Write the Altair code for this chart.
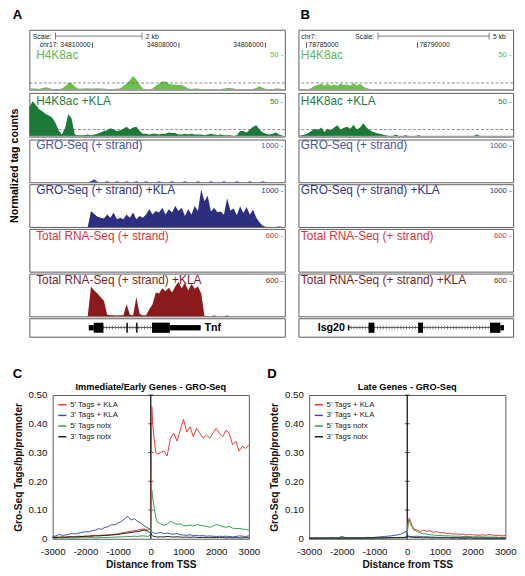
import altair as alt
import pandas as pd

FONT = "Liberation Sans"

# ---------------- Panel A: Tnf locus (chr17, coordinates fall left->right) ----------------
A_WINDOW = [34805550, 34811460]
A_BIN_START = 34811460
A_BIN_BP = 75
A_COORD_TICKS = [34810000, 34808000, 34806000]
A_COORD_LABELS = ["chr17: 34810000", "34808000", "34806000"]
A_SCALE_BAR = [34810855, 34808855]
A_SCALE_LABEL = "2 kb"

A_H4K8AC = [2, 2, 2, 1.5, 3, 4, 3, 1.5, 1, 1,
            2, 5, 10, 10, 5, 2, 2, 2, 2.5, 2,
            2, 2.5, 2, 2, 1.5, 1, 1.5, 2, 2, 6,
            9, 14, 20, 15, 8, 2, 1, 1, 2, 6,
            9, 12, 12, 9, 8, 8, 7, 7, 5, 2,
            1.5, 2, 2, 1.5, 1, 1, 1, 1.5, 1, 1,
            2, 3, 3, 2, 1, 1, 1, 1, 1, 1.5,
            3, 5.5, 3, 1.5, 1, 1, 2, 2, 1]
A_H4K8AC_KLA = [42, 50, 45, 39, 36, 32, 30, 27, 20, 9,
                3, 12, 32, 26, 3, 2, 2, 2, 3, 2,
                3, 4, 6, 8, 9, 12, 10, 8, 9, 11,
                14, 10, 13, 14, 8, 4, 4, 3, 4, 4,
                3, 4, 4, 6, 5, 5, 3, 3, 4, 3,
                4, 3, 3, 3, 2, 3, 4, 3, 2, 3,
                2, 2, 2, 1, 2, 8, 8, 6, 10, 14,
                16, 10, 6, 4, 3, 4, 6, 3, 2]
A_GRO = [0, 0, 0, 0, 0, 0, 0, 0, 0, 0,
         0, 0, 0, 0, 0, 0, 0, 0, 0, 30,
         80, 15, 0, 0, 25, 0, 0, 25, 0, 0,
         25, 0, 0, 25, 0, 0, 25, 0, 0, 0,
         25, 0, 0, 0, 25, 0, 0, 0, 25, 0,
         0, 0, 25, 0, 0, 0, 25, 0, 0, 0,
         25, 0, 0, 0, 25, 0, 0, 0, 25, 0,
         0, 0, 25, 0, 0, 0, 0, 0, 0]
A_GRO_KLA = [0, 0, 0, 0, 0, 0, 0, 0, 0, 0,
             0, 0, 0, 0, 0, 0, 0, 0, 0, 430,
             350, 280, 250, 230, 340, 250, 390, 210, 250, 210,
             340, 250, 390, 210, 300, 250, 340, 480, 340, 430,
             390, 520, 340, 480, 390, 570, 430, 520, 300, 480,
             340, 570, 430, 1020, 700, 850, 420, 520, 400, 420,
             330, 780, 450, 500, 320, 560, 380, 540, 330, 470,
             250, 120, 30, 0, 0, 0, 0, 15, 0]
A_RNA = []  # no reads in this window
A_RNA_KLA = [0, 0, 0, 0, 0, 0, 0, 0, 0, 0,
             0, 0, 0, 0, 0, 0, 0, 0, 0, 500,
             430, 380, 320, 260, 25, 20, 20, 15, 20, 20,
             200, 25, 20, 320, 40, 20, 20, 120, 200, 400,
             380, 470, 420, 480, 400, 500, 580, 470, 560, 430,
             540, 460, 500, 380, 10, 0, 0, 12, 0, 0,
             0, 12, 0, 0, 0, 0, 0, 0, 0, 0,
             0, 0, 0, 0, 0, 0, 0, 0, 0]

A_GENE_NAME = "Tnf"
A_GENE_SPAN = [34810084, 34807499]
A_CDS_START = [34809971, 34809215, 34808990, 34808623]
A_CDS_END = [34809747, 34809182, 34808957, 34808210]
A_UTR_START = [34810084, 34808210]
A_UTR_END = [34809971, 34807499]

# ---------------- Panel B: Isg20 locus (chr7) ----------------
B_WINDOW = [78784640, 78794300]
B_BIN_START = 78784640
B_BIN_BP = 146
B_CHROM = "chr7:"
B_COORD_TICKS = [78785000, 78790000]
B_COORD_LABELS = ["78785000", "78790000"]
B_SCALE_BAR = [78788220, 78793220]
B_SCALE_LABEL = "5 kb"

B_H4K8AC = [0.5, 0.5, 0.5, 1, 3, 6, 7, 9, 6, 9,
            6, 8, 6, 9, 7, 8, 6, 10, 6, 9,
            5, 3, 1.5, 1, 0.5, 0.5, 0.5, 0.5, 1.5, 1,
            0.5, 0.5, 0.5, 0.5, 0.5, 0.5, 0.5, 0.5, 0.5, 1,
            0.5, 0.5, 0.5, 0.5, 0.5, 0.5, 0.5, 0.5, 0.5, 1.5,
            0.5, 0.5, 0.5, 0.5, 0.5, 0.5, 0.5, 0.5, 0.5, 0.5,
            0.5, 0.5, 0.5, 0.5, 0.5, 0.5, 1]
B_H4K8AC_KLA = [1, 2, 3, 5, 8, 11, 9, 13, 6.5, 11,
                9, 13, 16, 10, 12.5, 14, 11, 17, 10, 13,
                19, 13, 9, 6.5, 5, 4, 3, 2, 1, 1,
                3, 1, 1, 2, 1, 1, 1, 2, 1, 1,
                1, 1, 1, 1, 1, 1, 1, 1, 1, 1,
                1, 1, 1, 1, 1, 3, 1, 1, 1, 1,
                1, 1, 1, 1, 1, 1, 1]
B_GRO = []
B_GRO_KLA = []
B_RNA = []
B_RNA_KLA = []

B_GENE_NAME = "Isg20"
B_GENE_SPAN = [78786866, 78793888]
B_CDS_START = [78787797, 78790025, 78793259]
B_CDS_END = [78788059, 78790244, 78793727]
B_UTR_START = [78786866, 78793727]
B_UTR_END = [78786931, 78793888]

# ---------------- Track styling ----------------
TRACK_NAMES = ["H4K8ac", "H4K8ac +KLA", "GRO-Seq (+ strand)", "GRO-Seq (+ strand) +KLA",
               "Total RNA-Seq (+ strand)", "Total RNA-Seq (+ strand) +KLA"]
TRACK_TICK = [50, 50, 1000, 1000, 600, 600]
TRACK_DMAX = [86, 62, 1160, 1160, 715, 715]
TRACK_FILL = ["#6cc04a", "#1c7a38", "#3b4a9e", "#2c2f80", "#d8373c", "#8b1a1c"]
TRACK_TEXT = ["#5cb85c", "#2a7d40", "#4655a5", "#2f3585", "#d8373c", "#7c1d1f"]
TRACK_H = [62, 45, 44, 44, 44, 44]
GENE_H = 19
DASH_LEVEL = 10
Y_LABEL = "Normalized tag counts"

# ---------------- Panels C / D: metaprofiles ----------------
P_X = list(range(-3000, 0, 100)) + [-40, 0, 30, 60, 100, 150] + list(range(200, 3001, 100))
SERIES = ["5\u2019 Tags + KLA", "3\u2019 Tags + KLA", "5\u2019 Tags notx", "3\u2019 Tags notx"]
SERIES_COLORS = ["#e8392d", "#3c4fa2", "#2f9e48", "#1a1a1a"]

C_RED = [.005, .006, .005, .007, .006, .008, .007, .008, .009, .008,
         .010, .009, .011, .012, .011, .013, .012, .014, .015, .016,
         .017, .020, .022, .024, .026, .028, .030, .033, .034, .030,
         .032, .040, .460, .400, .350, .300,
         .295, .300, .305, .288, .350, .367, .340, .378, .415, .372,
         .389, .355, .384, .367, .350, .361, .350, .367, .384, .367,
         .355, .378, .367, .327, .339, .305, .322, .314, .327]
C_BLUE = [.008, .010, .015, .012, .013, .016, .018, .017, .020, .022,
          .025, .024, .028, .030, .035, .033, .040, .042, .050, .048,
          .055, .060, .070, .078, .065, .070, .060, .055, .045, .038,
          .035, .030, .025, .022, .020, .018,
          .020, .022, .018, .020, .017, .016, .018, .014, .013, .012,
          .014, .011, .012, .010, .011, .009, .010, .009, .008, .009,
          .008, .009, .008, .007, .008, .010, .009, .008, .010]
C_GREEN = [.002, .002, .003, .002, .003, .003, .002, .003, .003, .004,
           .003, .004, .004, .003, .004, .005, .004, .005, .005, .006,
           .006, .007, .007, .008, .008, .009, .008, .010, .010, .008,
           .010, .020, .170, .140, .110, .075,
           .058, .052, .047, .050, .062, .055, .050, .052, .046, .045,
           .048, .044, .050, .047, .045, .043, .040, .044, .050, .046,
           .042, .040, .043, .037, .035, .036, .034, .032, .030]
C_BLACK = [.004, .005, .005, .006, .005, .006, .007, .006, .007, .008,
           .008, .009, .009, .010, .010, .011, .012, .012, .013, .014,
           .015, .017, .019, .020, .022, .024, .025, .028, .030, .027,
           .022, .020, .012, .010, .008, .007,
           .006, .007, .006, .008, .007, .006, .007, .006, .005, .006,
           .005, .006, .005, .004, .005, .004, .005, .004, .004, .005,
           .004, .003, .004, .003, .004, .003, .003, .004, .003]

D_RED = [.002, .002, .003, .002, .002, .003, .002, .002, .003, .002,
         .003, .002, .002, .003, .002, .003, .002, .003, .003, .002,
         .003, .003, .003, .004, .003, .004, .004, .004, .004, .005,
         .006, .020, .060, .072, .060, .045,
         .035, .030, .025, .030, .026, .028, .022, .025, .020, .022,
         .018, .020, .016, .017, .015, .016, .013, .015, .014, .013,
         .012, .014, .012, .015, .013, .011, .012, .010, .012]
D_BLUE = [.003, .002, .003, .002, .003, .002, .003, .003, .002, .004,
          .008, .004, .003, .003, .004, .003, .004, .004, .005, .004,
          .005, .006, .007, .008, .009, .010, .012, .013, .016, .022,
          .025, .010, .006, .006, .007, .008,
          .008, .009, .008, .007, .007, .006, .006, .005, .005, .005,
          .005, .004, .004, .004, .004, .004, .003, .004, .003, .003,
          .003, .003, .003, .003, .002, .003, .002, .002, .002]
D_GREEN = [.001, .001, .002, .001, .001, .002, .001, .001, .002, .001,
           .002, .001, .001, .002, .001, .002, .001, .002, .002, .001,
           .002, .002, .002, .002, .002, .003, .003, .003, .003, .003,
           .003, .020, .055, .065, .050, .040,
           .030, .025, .020, .018, .016, .014, .013, .012, .011, .011,
           .010, .010, .009, .009, .009, .008, .008, .008, .007, .007,
           .007, .007, .006, .006, .006, .006, .005, .005, .005]
D_BLACK = [.002, .002, .002, .003, .002, .002, .002, .003, .002, .002,
           .002, .003, .002, .002, .003, .002, .002, .003, .002, .003,
           .003, .003, .003, .003, .004, .004, .004, .004, .005, .004,
           .005, .008, .010, .008, .006, .005,
           .004, .004, .004, .003, .004, .003, .003, .003, .003, .003,
           .003, .003, .002, .003, .002, .002, .002, .003, .002, .002,
           .002, .002, .002, .002, .002, .002, .002, .002, .002]

X_TICKS = [-3000, -2000, -1000, 0, 1000, 2000, 3000]
Y_TICKS = [0, 0.1, 0.2, 0.3, 0.4, 0.5]
AXIS_CROSS = 0
PLOT_W = 202
PLOT_H = 148

NOSTROKE = alt.ViewBackground(stroke="transparent", strokeWidth=0)


def letter(text, dx_px, dy_px, size=13.5, align="left"):
    return alt.Chart(pd.DataFrame({"t": [text]})).mark_text(
        align=align, baseline="alphabetic", fontSize=size, fontWeight="bold",
        color="black", font=FONT).encode(x=alt.value(dx_px), y=alt.value(dy_px), text="t:N")


# ================= builders =================
def track_panel(k, vals, bin_start, bin_bp, direction, window, reverse, width,
                left_edge, label_dx, header_layers=None, extra=None):
    xsc = alt.Scale(domain=window, reverse=reverse, nice=False, zero=False)
    ysc = alt.Scale(domain=[0, TRACK_DMAX[k]], nice=False)
    X = alt.X("pos:Q", scale=xsc, axis=None)
    Y = alt.Y("v:Q", scale=ysc, axis=alt.Axis(
        orient="right", values=[TRACK_TICK[k]], labelExpr="datum.value + ' -'",
        ticks=False, tickSize=0, domain=False, grid=False, labelAlign="right",
        labelBaseline="middle", labelPadding=-2, labelFontSize=8,
        labelColor=TRACK_TEXT[k], labelFont=FONT, title=None))
    pos = [bin_start + direction * i * bin_bp for i in range(len(vals))]
    df = pd.DataFrame({"pos": pos, "v": vals}, dtype=float)
    layers = [alt.Chart(df).mark_area(color=TRACK_FILL[k], interpolate="linear").encode(x=X, y=Y)]
    if k < 2:
        layers.append(alt.Chart(pd.DataFrame({"v": [DASH_LEVEL]})).mark_rule(
            color="#555555", strokeDash=[3, 2], strokeWidth=0.7).encode(y=Y))
        layers.append(alt.Chart(pd.DataFrame({"v": [0]})).mark_rule(
            color="#a0a0a0", strokeWidth=2).encode(y=Y))
    lab = pd.DataFrame({"pos": [left_edge], "v": [TRACK_TICK[k]], "t": [TRACK_NAMES[k]]})
    layers.append(alt.Chart(lab).mark_text(
        align="left", baseline="middle", dx=label_dx, fontSize=12.2,
        color=TRACK_TEXT[k], font=FONT).encode(x=X, y=Y, text="t:N"))
    if header_layers:
        layers += [h(X) for h in header_layers]
    if extra is not None:
        layers.append(extra)
    return alt.layer(*layers).properties(width=width, height=TRACK_H[k])


def header_parts(scale_bar, scale_label, ticks, tick_labels, tick_align, chrom=None, chrom_pos=None):
    def bar(X):
        d = pd.DataFrame({"pos": [scale_bar[0]], "e": [scale_bar[1]]})
        return alt.Chart(d).mark_rule(color="#555555", strokeWidth=0.8).encode(
            x=X, x2="e:Q", y=alt.value(6.5))

    def bar_ends(X):
        d = pd.DataFrame({"pos": scale_bar})
        return alt.Chart(d).mark_rule(color="#555555", strokeWidth=0.8).encode(
            x=X, y=alt.value(3), y2=alt.value(10))

    def scale_text(X):
        d1 = pd.DataFrame({"pos": [scale_bar[0]], "t": ["Scale:"]})
        d2 = pd.DataFrame({"pos": [scale_bar[1]], "t": [scale_label]})
        left = alt.Chart(d1).mark_text(align="right", baseline="middle", dx=-4,
                                       fontSize=7, color="#222222", font=FONT)
        right = alt.Chart(d2).mark_text(align="left", baseline="middle", dx=4,
                                        fontSize=7, color="#222222", font=FONT)
        return alt.layer(left.encode(x=X, y=alt.value(7), text="t:N"),
                         right.encode(x=X, y=alt.value(7), text="t:N"))

    def coord_ticks(X):
        d = pd.DataFrame({"pos": ticks})
        return alt.Chart(d).mark_rule(color="#222222", strokeWidth=0.8).encode(
            x=X, y=alt.value(13), y2=alt.value(18.5))

    def coord_text(X):
        d = pd.DataFrame({"pos": ticks, "t": tick_labels})
        return alt.Chart(d).mark_text(
            align=tick_align, baseline="middle", dx=(-2 if tick_align == "right" else 2),
            fontSize=7, color="#222222", font=FONT).encode(x=X, y=alt.value(16), text="t:N")

    parts = [bar, bar_ends, scale_text, coord_ticks, coord_text]
    if chrom:
        def chrom_text(X):
            d = pd.DataFrame({"pos": [chrom_pos], "t": [chrom]})
            return alt.Chart(d).mark_text(align="left", baseline="middle", dx=3, fontSize=7,
                                          color="#222222", font=FONT).encode(
                x=X, y=alt.value(7), text="t:N")
        parts.append(chrom_text)
    return parts


def gene_panel(window, reverse, width, span, cds_s, cds_e, utr_s, utr_e, name, name_align):
    xsc = alt.Scale(domain=window, reverse=reverse, nice=False, zero=False)
    X = alt.X("s:Q", scale=xsc, axis=None)
    sp = pd.DataFrame({"s": [span[0]], "e": [span[1]]})
    intron = alt.Chart(sp).mark_rule(color="#333333", strokeWidth=0.8).encode(
        x=X, x2="e:Q", y=alt.value(9.5))
    hatch = alt.Chart(sp).mark_rule(color="#666666", strokeWidth=3.5, strokeDash=[0.8, 2.2]).encode(
        x=X, x2="e:Q", y=alt.value(9.5))
    utr = alt.Chart(pd.DataFrame({"s": utr_s, "e": utr_e})).mark_rect(color="black").encode(
        x=X, x2="e:Q", y=alt.value(7), y2=alt.value(12.5))
    cds = alt.Chart(pd.DataFrame({"s": cds_s, "e": cds_e})).mark_rect(color="black").encode(
        x=X, x2="e:Q", y=alt.value(4.5), y2=alt.value(15))
    anchor = span[1] if name_align == "left" else span[0]
    nm = alt.Chart(pd.DataFrame({"s": [anchor], "t": [name]})).mark_text(
        align=name_align, baseline="middle", dx=(4 if name_align == "left" else -3),
        fontSize=11, fontWeight="bold", color="black", font=FONT).encode(
        x=X, y=alt.value(10), text="t:N")
    return alt.layer(intron, hatch, utr, cds, nm).properties(width=width, height=GENE_H)


def profile_panel(series_vals, title, letter_text, letter_dx):
    rows = []
    for name, vals in zip(SERIES, series_vals):
        for x, y in zip(P_X, vals):
            rows.append({"x": x, "y": y, "series": name})
    df = pd.DataFrame(rows)
    xsc = alt.Scale(domain=[-3000, 3000], nice=False)
    ysc = alt.Scale(domain=[0, 0.5], nice=False)
    X = alt.X("x:Q", scale=xsc, axis=alt.Axis(
        values=X_TICKS, labelExpr="'' + datum.value", labelFontSize=10, labelPadding=8,
        ticks=False, tickSize=0, domain=False, grid=False, labelFlush=False, labelOverlap=False,
        labelColor="#111111", title="Distance from TSS", titleFontSize=10.5,
        titleFontWeight="bold", titlePadding=4, titleColor="#111111"))
    Y = alt.Y("y:Q", scale=ysc, axis=alt.Axis(
        values=Y_TICKS, labelExpr="datum.value == 0 ? '0' : format(datum.value, '.2f')",
        labelFontSize=10, labelPadding=6, ticks=False, tickSize=0, domain=False, grid=False,
        labelFlush=False, labelOverlap=False, labelColor="#111111",
        title="Gro-Seq Tags/bp/promoter", titleFontSize=10.5, titleFontWeight="bold",
        titlePadding=5, titleColor="#111111"))
    zero = alt.Chart(pd.DataFrame({"x": [AXIS_CROSS]})).mark_rule(
        color="black", strokeWidth=1.2).encode(x=X)
    tick_df = pd.DataFrame({"x": [AXIS_CROSS] * (len(Y_TICKS) - 1), "y": Y_TICKS[1:]})
    ticks = alt.Chart(tick_df).mark_tick(orient="horizontal", size=5, thickness=1,
                                         color="black").encode(x=X, y=Y)
    lines = alt.Chart(df).mark_line(strokeWidth=1).encode(
        x=X, y=Y,
        color=alt.Color("series:N", scale=alt.Scale(domain=SERIES, range=SERIES_COLORS),
                        sort=SERIES,
                        legend=alt.Legend(orient="top-left", title=None, offset=5, padding=0,
                                          symbolType="stroke", symbolSize=70,
                                          symbolStrokeWidth=1.5, labelFontSize=8,
                                          labelFont=FONT, labelColor="#222222",
                                          rowPadding=2, labelOffset=3)))
    heading = letter(title, PLOT_W / 2, -5, size=9.5, align="center")
    return alt.layer(zero, ticks, lines, heading,
                     letter(letter_text, letter_dx, -18)).properties(width=PLOT_W, height=PLOT_H)


# ================= assemble =================
A_VALS = [A_H4K8AC, A_H4K8AC_KLA, A_GRO, A_GRO_KLA, A_RNA, A_RNA_KLA]
B_VALS = [B_H4K8AC, B_H4K8AC_KLA, B_GRO, B_GRO_KLA, B_RNA, B_RNA_KLA]

a_header = header_parts(A_SCALE_BAR, A_SCALE_LABEL, A_COORD_TICKS, A_COORD_LABELS, "right")
b_header = header_parts(B_SCALE_BAR, B_SCALE_LABEL, B_COORD_TICKS, B_COORD_LABELS, "left",
                        chrom=B_CHROM, chrom_pos=B_WINDOW[0])

tracks_a = [track_panel(k, A_VALS[k], A_BIN_START, A_BIN_BP, -1, A_WINDOW, True, 263,
                        A_WINDOW[1], 7, a_header if k == 0 else None) for k in range(6)]
tracks_a.append(gene_panel(A_WINDOW, True, 263, A_GENE_SPAN, A_CDS_START, A_CDS_END,
                           A_UTR_START, A_UTR_END, A_GENE_NAME, "left"))

tracks_b = [track_panel(k, B_VALS[k], B_BIN_START, B_BIN_BP, 1, B_WINDOW, False, 221,
                        B_WINDOW[0], 2.5, b_header if k == 0 else None,
                        letter("B", 2, -11.5) if k == 0 else None) for k in range(6)]
tracks_b.append(gene_panel(B_WINDOW, False, 221, B_GENE_SPAN, B_CDS_START, B_CDS_END,
                           B_UTR_START, B_UTR_END, B_GENE_NAME, "right"))

# narrow column holding the shared y label and the "A" panel letter
label_col = alt.layer(
    alt.Chart(pd.DataFrame({"t": [Y_LABEL]})).mark_text(
        angle=270, align="center", baseline="middle", fontSize=11, fontWeight="bold",
        color="black", font=FONT).encode(x=alt.value(7), y=alt.value(140), text="t:N"),
    letter("A", 5, -11.5),
).properties(width=14, height=sum(TRACK_H) + GENE_H, view=NOSTROKE)

spacer = alt.Chart(pd.DataFrame({"t": [""]})).mark_text().encode(
    x=alt.value(0), y=alt.value(0), text="t:N").properties(width=1, height=1, view=NOSTROKE)

col_a = alt.vconcat(*tracks_a, spacing=0)
col_b = alt.vconcat(*tracks_b, spacing=0)
top = alt.hconcat(label_col, alt.hconcat(col_a, col_b, spacing=10), spacing=5)

panel_c = profile_panel([C_RED, C_BLUE, C_GREEN, C_BLACK], "Immediate/Early Genes - GRO-Seq", "C", -41)
panel_d = profile_panel([D_RED, D_BLUE, D_GREEN, D_BLACK], "Late Genes - GRO-Seq", "D", -43)
cd = alt.hconcat(panel_c, panel_d, spacing=6).resolve_scale(color="independent") \
    .resolve_legend(color="independent")
bottom = alt.hconcat(spacer, cd, spacing=3).resolve_scale(color="independent") \
    .resolve_legend(color="independent")

chart = alt.vconcat(top, bottom, spacing=29) \
    .properties(padding={"left": 0, "top": -9, "right": 0, "bottom": 0}) \
    .resolve_scale(color="independent").resolve_legend(color="independent") \
    .configure(font=FONT) \
    .configure_view(stroke="#5a5a5a", strokeWidth=1) \
    .configure_text(font=FONT)

chart.save("out.html", embed_options={"renderer": "svg", "actions": False})
